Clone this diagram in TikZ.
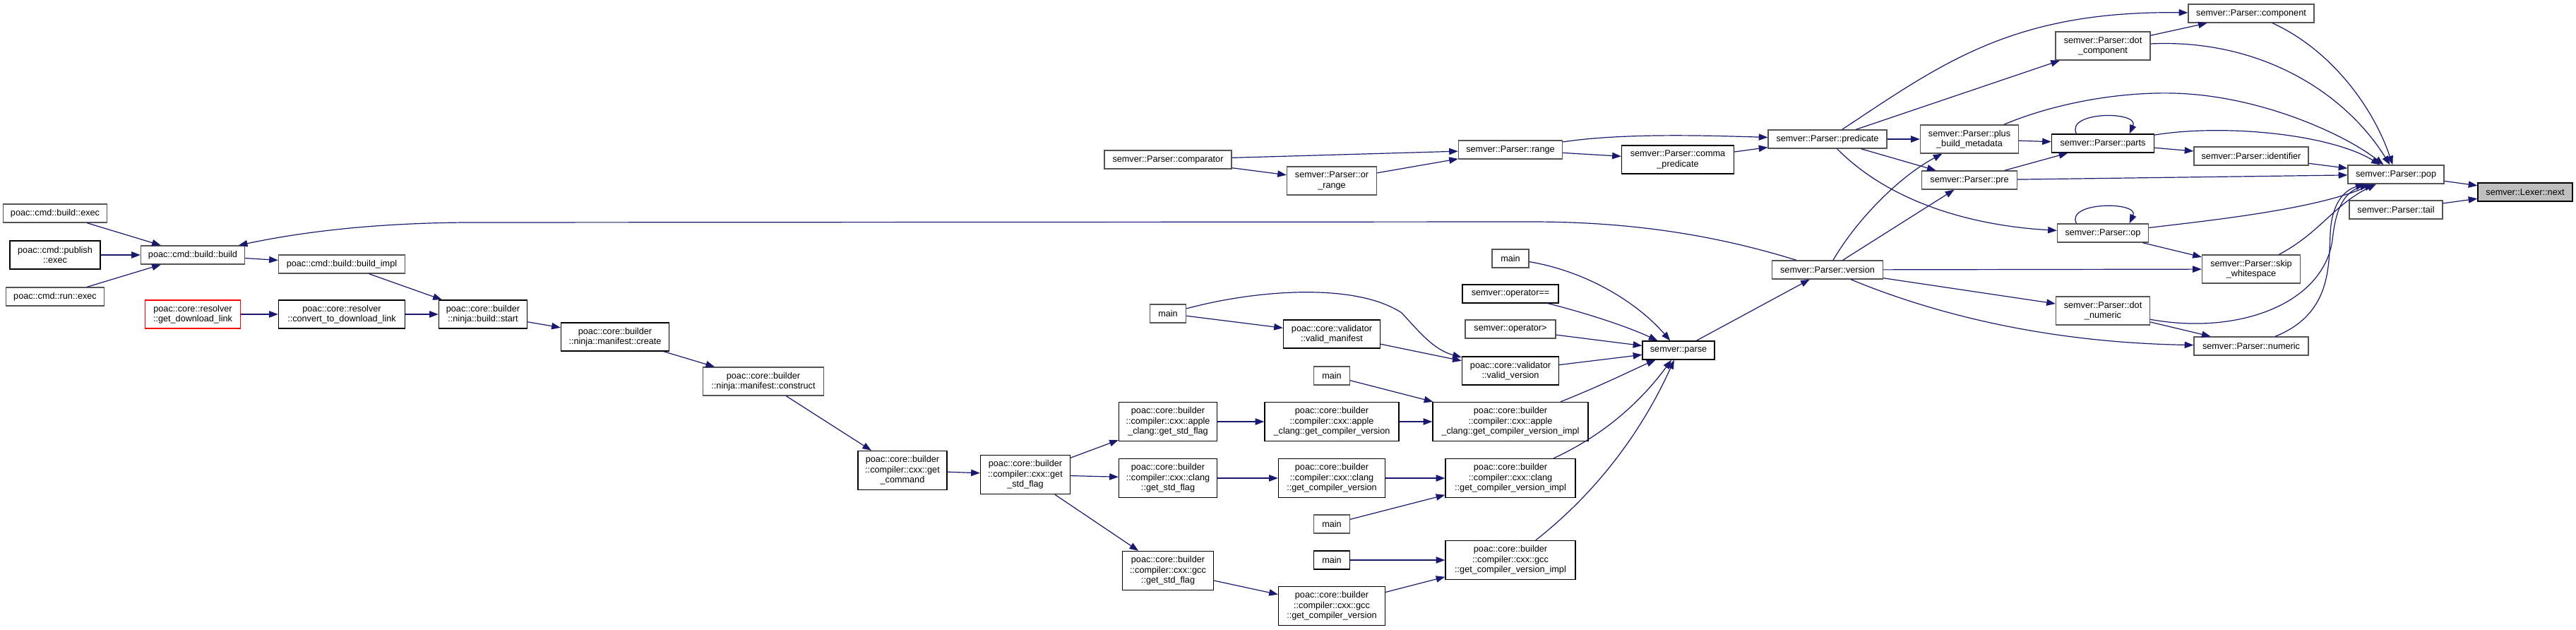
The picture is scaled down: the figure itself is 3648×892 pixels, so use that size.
\documentclass[tikz,border=0pt]{standalone}
\usepackage{fontspec}
\setmainfont{Liberation Sans}
\usetikzlibrary{arrows.meta}
\definecolor{edgec}{HTML}{191970}
\definecolor{gb}{HTML}{555555}
\definecolor{hl}{HTML}{BFBFBF}
\begin{document}
\begin{tikzpicture}[x=0.75pt,y=-0.75pt,
  box/.style={draw=black, fill=white, line width=1pt, inner sep=1.5pt, align=center,
    font=\fontsize{9.5pt}{10.9pt}\selectfont},
  gbox/.style={box, draw=gb},
  bw/.style={minimum width=#1*0.75pt},
  l1/.style={minimum height=19.5pt},
  l2/.style={minimum height=30pt},
  l3/.style={minimum height=41.25pt},
  edge/.style={draw=edgec, line width=0.9pt, -{Triangle[length=9.5pt,width=7pt]}}]
\fill[white] (0,0) rectangle (3648,892);
\useasboundingbox (0,0) rectangle (3648,892);

% poac cmd / resolver / ninja
\node[gbox,bw=147,l1] (bexec) at (78,302) {poac::cmd::build::exec};
\node[box,bw=128,l2] (pexec) at (78,361) {poac::cmd::publish\\::exec};
\node[gbox,bw=139,l1] (rexec) at (78,420) {poac::cmd::run::exec};
\node[gbox,bw=147,l1] (bbuild) at (273,361) {poac::cmd::build::build};
\node[gbox,bw=179,l1] (bimpl) at (484,374) {poac::cmd::build::build\_impl};
\node[box,draw=red,bw=135,l2] (gdl) at (273,445) {poac::core::resolver\\::get\_download\_link};
\node[box,bw=179,l2] (conv) at (484,445) {poac::core::resolver\\::convert\_to\_download\_link};
\node[box,bw=125,l2] (nstart) at (684,445) {poac::core::builder\\::ninja::build::start};
\node[box,bw=153,l2] (create) at (871,477) {poac::core::builder\\::ninja::manifest::create};
\node[gbox,bw=171,l2] (construct) at (1081,540) {poac::core::builder\\::ninja::manifest::construct};
\node[box,bw=126,l3] (gcmd) at (1278,666) {poac::core::builder\\::compiler::cxx::get\\\_command};
\node[box,bw=127,l3] (cgsf) at (1452,672) {poac::core::builder\\::compiler::cxx::get\\\_std\_flag};

% compiler columns
\node[box,bw=139,l3] (agsf) at (1654,597) {poac::core::builder\\::compiler::cxx::apple\\\_clang::get\_std\_flag};
\node[box,bw=139,l3] (lgsf) at (1654,677) {poac::core::builder\\::compiler::cxx::clang\\::get\_std\_flag};
\node[box,bw=129,l3] (ggsf) at (1654,808) {poac::core::builder\\::compiler::cxx::gcc\\::get\_std\_flag};
\node[gbox,bw=51,l1] (mainb) at (1654,444) {main};
\node[gbox,bw=180,l1] (comparator) at (1654,226) {semver::Parser::comparator};

\node[box,bw=137,l2] (vmanifest) at (1886,473) {poac::core::validator\\::valid\_manifest};
\node[gbox,bw=127,l2] (orrange) at (1886,256) {semver::Parser::or\\\_range};
\node[gbox,bw=51,l1] (mainc) at (1886,532) {main};
\node[box,bw=190,l3] (agcv) at (1886,597) {poac::core::builder\\::compiler::cxx::apple\\\_clang::get\_compiler\_version};
\node[box,bw=151,l3] (lgcv) at (1886,677) {poac::core::builder\\::compiler::cxx::clang\\::get\_compiler\_version};
\node[gbox,bw=51,l1] (maind) at (1886,742) {main};
\node[box,bw=51,l1] (maine) at (1886,793) {main};
\node[box,bw=151,l3] (ggcv) at (1886,858) {poac::core::builder\\::compiler::cxx::gcc\\::get\_compiler\_version};

\node[gbox,bw=147,l1] (range) at (2139,212) {semver::Parser::range};
\node[gbox,bw=52,l1] (maina) at (2139,366) {main};
\node[box,bw=136,l1] (opeq) at (2139,416) {semver::operator==};
\node[gbox,bw=128,l1] (opgt) at (2139,466) {semver::operator>};
\node[box,bw=137,l2] (vversion) at (2139,525) {poac::core::validator\\::valid\_version};
\node[box,bw=220,l3] (aimpl) at (2139,597) {poac::core::builder\\::compiler::cxx::apple\\\_clang::get\_compiler\_version\_impl};
\node[box,bw=184,l3] (limpl) at (2139,677) {poac::core::builder\\::compiler::cxx::clang\\::get\_compiler\_version\_impl};
\node[box,bw=184,l3] (gimpl) at (2139,793) {poac::core::builder\\::compiler::cxx::gcc\\::get\_compiler\_version\_impl};

\node[box,bw=159,l2] (comma) at (2376,226) {semver::Parser::comma\\\_predicate};
\node[box,bw=102,l1] (parse) at (2377,496) {semver::parse};

% semver parser
\node[gbox,bw=168,l1] (predicate) at (2588,197) {semver::Parser::predicate};
\node[gbox,bw=157,l1] (version) at (2588,382) {semver::Parser::version};
\node[gbox,bw=139,l2] (plus) at (2789,197) {semver::Parser::plus\\\_build\_metadata};
\node[gbox,bw=135,l1] (pre) at (2789,255) {semver::Parser::pre};
\node[gbox,bw=134,l2] (dotcomp) at (2978,65) {semver::Parser::dot\\\_component};
\node[box,bw=145,l1] (parts) at (2978,203) {semver::Parser::parts};
\node[gbox,bw=129,l1] (op) at (2978,330) {semver::Parser::op};
\node[gbox,bw=133,l2] (dotnum) at (2978,440) {semver::Parser::dot\\\_numeric};
\node[gbox,bw=178,l1] (component) at (3188,19) {semver::Parser::component};
\node[gbox,bw=162,l1] (identifier) at (3188,221) {semver::Parser::identifier};
\node[gbox,bw=139,l2] (skip) at (3188,381) {semver::Parser::skip\\\_whitespace};
\node[gbox,bw=162,l1] (numeric) at (3188,490) {semver::Parser::numeric};
\node[gbox,bw=136,l1] (pop) at (3393,247) {semver::Parser::pop};
\node[gbox,bw=132,l1] (tail) at (3393,297) {semver::Parser::tail};
\node[box,fill=hl,bw=134,l1] (next) at (3576,272) {semver::Lexer::next};

% ---- edges: left part
\draw[edge] (bexec) -- (bbuild);
\draw[edge] (pexec) -- (bbuild);
\draw[edge] (rexec) -- (bbuild);
\draw[edge] (bbuild) -- (bimpl);
\draw[edge] (bimpl) -- (nstart);
\draw[edge] (gdl) -- (conv);
\draw[edge] (conv) -- (nstart);
\draw[edge] (nstart) -- (create);
\draw[edge] (create) -- (construct);
\draw[edge] (construct) -- (gcmd);
\draw[edge] (gcmd) -- (cgsf);
\draw[edge] (cgsf) -- (agsf);
\draw[edge] (cgsf) -- (lgsf);
\draw[edge] (cgsf) -- (ggsf);
\draw[edge] (agsf) -- (agcv);
\draw[edge] (lgsf) -- (lgcv);
\draw[edge] (ggsf) -- (ggcv);
\draw[edge] (agcv) -- (aimpl);
\draw[edge] (lgcv) -- (limpl);
\draw[edge] (ggcv) -- (gimpl);
\draw[edge] (mainc) -- (aimpl);
\draw[edge] (maind) -- (limpl);
\draw[edge] (maine) -- (gimpl);
\draw[edge] (mainb) -- (vmanifest);
\draw[edge] (vmanifest) -- (vversion);
\draw[edge] (mainb) .. controls (1780,410) and (1920,400) .. (1985,443)
  .. controls (2010,470) and (2030,495) .. (vversion);
\draw[edge] (comparator) -- (range);
\draw[edge] (comparator) -- (orrange);
\draw[edge] (orrange) -- (range);
\draw[edge] (range) -- (comma);
\draw[edge] (range) .. controls (2300,188) and (2420,192) .. (predicate);
\draw[edge] (comma) -- (predicate);

% ---- edges into parse
\draw[edge] (maina) .. controls (2250,385) and (2320,430) .. (parse);
\draw[edge] (opeq) .. controls (2260,447) and (2310,465) .. (parse);
\draw[edge] (opgt) -- (parse);
\draw[edge] (vversion) -- (parse);
\draw[edge] (aimpl) .. controls (2270,545) and (2320,520) .. (parse);
\draw[edge] (limpl) .. controls (2280,612) and (2330,560) .. (parse);
\draw[edge] (gimpl) .. controls (2270,690) and (2330,600) .. (parse);
\draw[edge] (parse) -- (version);

% long back edge
\draw[edge] (version) .. controls (2420,330) and (2300,314) .. (2168,314)
  -- (660,315) .. controls (520,316) and (420,330) .. (bbuild);

% ---- semver parser edges
\draw[edge] (predicate) -- (plus);
\draw[edge] (predicate) -- (pre);
\draw[edge] (predicate) -- (dotcomp);
\draw[edge] (predicate) .. controls (2750,90) and (2850,15) .. (component);
\draw[edge] (predicate) .. controls (2680,290) and (2800,320) .. (op);
\draw[edge] (version) .. controls (2630,310) and (2690,250) .. (plus);
\draw[edge] (version) -- (pre);
\draw[edge] (version) -- (skip);
\draw[edge] (version) -- (dotnum);
\draw[edge] (version) .. controls (2740,445) and (2900,485) .. (numeric);
\draw[edge] (plus) -- (parts);
\draw[edge] (pre) -- (parts);
\draw[edge] (parts.160) .. controls (2925,157) and (3030,157) .. (parts.20);
\draw[edge] (op.160) .. controls (2925,285) and (3030,285) .. (op.20);
\draw[edge] (parts) -- (identifier);
\draw[edge] (dotcomp) -- (component);
\draw[edge] (op) -- (skip);
\draw[edge] (dotnum) -- (numeric);

% ---- edges into pop
\draw[edge] (component) .. controls (3300,70) and (3360,150) .. (pop);
\draw[edge] (dotcomp) .. controls (3200,55) and (3320,130) .. (pop);
\draw[edge] (plus) .. controls (2900,150) and (2990,130) .. (3078,132)
  .. controls (3200,135) and (3320,190) .. (pop);
\draw[edge] (parts) .. controls (3150,175) and (3300,190) .. (pop);
\draw[edge] (identifier) -- (pop);
\draw[edge] (pre) -- (pop);
\draw[edge] (op) .. controls (3150,310) and (3280,295) .. (pop);
\draw[edge] (skip) .. controls (3285,330) and (3305,290) .. (pop);
\draw[edge] (dotnum) .. controls (3170,475) and (3290,430) .. (3303,340)
  .. controls (3308,290) and (3322,272) .. (pop);
\draw[edge] (numeric) .. controls (3300,445) and (3298,380) .. (3300,330)
  .. controls (3302,290) and (3318,270) .. (pop);
\draw[edge] (pop) -- (next);
\draw[edge] (tail) -- (next);
\end{tikzpicture}
\end{document}
